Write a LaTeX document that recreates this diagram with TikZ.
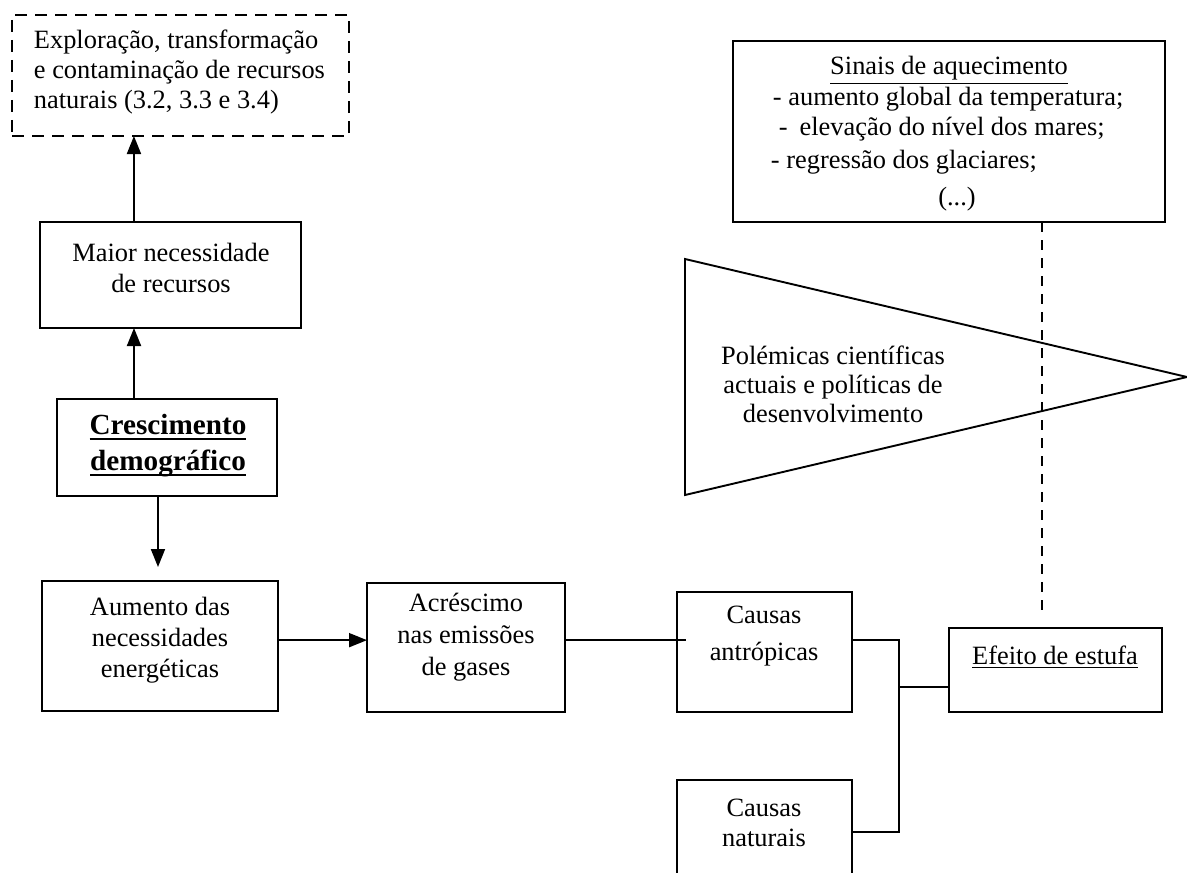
\documentclass[tikz,border=0pt]{standalone}
\usepackage{fontspec}
\setmainfont{Liberation Serif}
\usetikzlibrary{arrows.meta,calc}
\newcommand\mybox[6]{\node[#6, minimum width={(#4-#2)*0.5pt}, minimum height={(#5-#3)*0.5pt}] (#1) at ({(#2+#4)/2},{(#3+#5)/2}) {};}
\newcommand\thickul[1]{\setbox0\hbox{#1}\rlap{\rule[-2.6pt]{\wd0}{1.3pt}}\box0}
\begin{document}
\begin{tikzpicture}[x=0.5pt,y=-0.5pt,
  line width=0.95pt,
  boxst/.style={draw, rectangle, inner sep=0pt, outer sep=0pt},
  dbox/.style={boxst, dash pattern=on 6pt off 4pt},
  txt/.style={font=\fontsize{13.2}{15.5}\selectfont, align=center, inner sep=0pt},
  arr/.style={-{Triangle[length=9pt,width=7pt]}},
  dline/.style={dash pattern=on 5pt off 4pt}]
\useasboundingbox (0,0) rectangle (1187,872);
% boxes
\mybox{expl}{12}{15}{349}{136}{dbox}
\mybox{maior}{40}{222}{301}{328}{boxst}
\mybox{cresc}{57}{399}{277}{496}{boxst}
\mybox{aum}{42}{581}{278}{711}{boxst}
\mybox{acr}{367}{583}{565}{712}{boxst}
\mybox{cant}{677}{592}{852}{712}{boxst}
\mybox{cnat}{677}{780}{852}{890}{boxst}
\mybox{efeito}{949}{628}{1162}{712}{boxst}
\mybox{sinais}{733}{41}{1165}{222}{boxst}
% texts
\node[txt, align=left, anchor=west, font=\fontsize{13.2}{15}\selectfont] (texpl) at (33,72) {Exploração, transformação\\e contaminação de recursos\\naturais (3.2, 3.3 e 3.4)};
\node[txt] (tmaior) at (171,268) {Maior necessidade\\de recursos};
\node[txt, font=\fontsize{14.6}{18}\selectfont\bfseries] (tcresc) at (168,446) {\thickul{Crescimento}\\\thickul{demográfico}};
\node[txt] (taum) at (160,640) {Aumento das\\necessidades\\energéticas};
\node[txt, font=\fontsize{13.2}{16}\selectfont] (tacr) at (466,637) {Acréscimo\\nas emissões\\de gases};
\node[txt, font=\fontsize{13.2}{18.5}\selectfont] (tcant) at (764,636) {Causas\\antrópicas};
\node[txt, font=\fontsize{13.2}{15}\selectfont] (tcnat) at (764,823) {Causas\\naturais};
\node[txt] (tefeito) at (1055,657) {\underline{Efeito de estufa}};
\node[txt, anchor=base] (ts1) at (949,75) {\underline{Sinais de aquecimento}};
\node[txt, anchor=base west] (ts2) at (772,105) {- aumento global da temperatura;};
\node[txt, anchor=base west] (ts3) at (778,135) {-\hspace{0.45em}elevação do nível dos mares;};
\node[txt, anchor=base west] (ts4) at (770,168) {- regressão dos glaciares;};
\node[txt, anchor=base] (ts5) at (957,205) {(...)};
% triangle
\coordinate (t1) at (685,259);
\coordinate (t2) at (1187,377);
\coordinate (t3) at (685,495);
\draw (t1) -- (t2) -- (t3) -- cycle;
\node[txt, font=\fontsize{13.2}{14.5}\selectfont] (tpol) at (833,384) {Polémicas científicas\\actuais e políticas de\\desenvolvimento};
% connectors
\coordinate (a1) at ($(maior.north west)!0.36!(maior.north east)$);
\draw[arr] (a1) -- (a1 |- expl.south);
\coordinate (a2) at ($(cresc.north west)!0.35!(cresc.north east)$);
\draw[arr] (a2) -- (a2 |- maior.south);
\coordinate (a3) at ($(cresc.south west)!0.459!(cresc.south east)$);
\coordinate (a3e) at (a3 |- 0,567);
\draw[arr] (a3) -- (a3e);
\coordinate (a4) at ($(aum.north east)!0.455!(aum.south east)$);
\draw[arr] (a4) -- (a4 -| acr.west);
\coordinate (a5) at ($(acr.north east)!0.44!(acr.south east)$);
\draw (a5) -- ($(a5 -| cant.west)+(9,0)$);
\coordinate (b1) at ($(cant.north east)!0.4!(cant.south east)$);
\coordinate (b2) at ($(cnat.north east)+(0,52)$);
\coordinate (b3) at ($(efeito.north west)!0.70!(efeito.south west)$);
\draw (b1) -- ++(47,0) coordinate (bt) -- (bt |- b2) -- (b2);
\draw (bt |- b3) -- (b3);
\coordinate (de) at (1042,617);
\draw[dline] (sinais.south -| de) -- (de);
\end{tikzpicture}
\end{document}
